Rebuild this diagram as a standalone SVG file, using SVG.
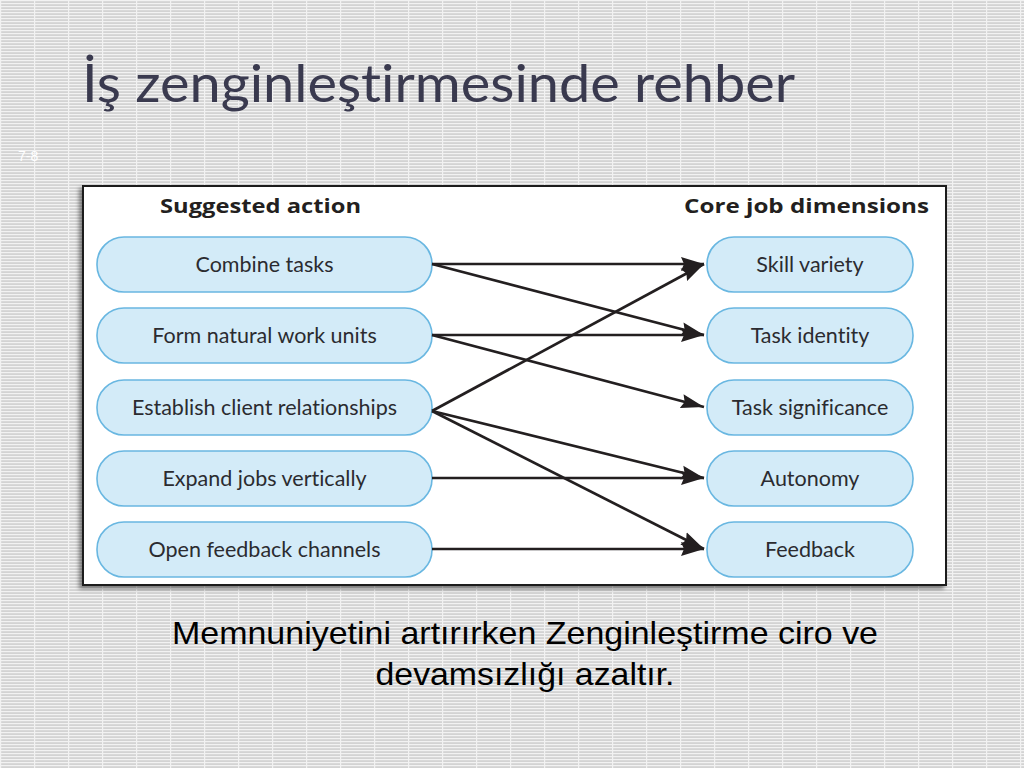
<svg xmlns="http://www.w3.org/2000/svg" width="1024" height="768" viewBox="0 0 1024 768">
  <defs>
    <pattern id="bg" x="0" y="0" width="34" height="3" patternUnits="userSpaceOnUse">
      <rect width="34" height="3" fill="#d3d3d3"/>
      <rect x="0" y="0" width="34" height="1.2" fill="#f2f2f2"/>
      <rect x="0" y="0" width="1.2" height="3" fill="#f2f2f2"/>
    </pattern>
    <filter id="sh" x="-5%" y="-5%" width="110%" height="115%">
      <feDropShadow dx="-3" dy="3" stdDeviation="2" flood-color="#000" flood-opacity="0.45"/>
    </filter>
    <marker id="ah" markerWidth="24" markerHeight="16" refX="23" refY="8" orient="auto" markerUnits="userSpaceOnUse">
      <path d="M0,1 L23,8 L0,15 L3,8 z" fill="#231f20"/>
    </marker>
    <style>
      text { font-variant-ligatures: none; }
      .node rect { fill: #d3ebf8; stroke: #69b7e1; stroke-width: 1.6; }
      .node text { font-family: Lato, "Open Sans", "Liberation Sans", sans-serif; font-size: 21.5px; fill: #2b2b30; text-anchor: middle; }
      .hdr { font-family: "Open Sans", Lato, "Liberation Sans", sans-serif; font-weight: bold; font-size: 20px; fill: #231f20; }
      .conn line { stroke: #231f20; stroke-width: 2.7; marker-end: url(#ah); }
    </style>
  </defs>
  <rect width="1024" height="768" fill="url(#bg)"/>
  <text x="82" y="102" font-family="Lato, 'Open Sans', sans-serif" font-size="52" fill="#3a3a4f" textLength="713" lengthAdjust="spacingAndGlyphs">İş zenginleştirmesinde rehber</text>
  <text x="18" y="161" font-family="'Liberation Sans', sans-serif" font-size="14" fill="#ffffff">7-8</text>

  <g id="frame">
    <rect x="83" y="186" width="863" height="399" fill="#ffffff" stroke="#1a1a1a" stroke-width="2" filter="url(#sh)"/>
    <text class="hdr" x="160" y="213" textLength="201" lengthAdjust="spacingAndGlyphs">Suggested action</text>
    <text class="hdr" x="684" y="213" textLength="245" lengthAdjust="spacingAndGlyphs">Core job dimensions</text>
  </g>

  <g id="a1" class="node"><rect x="97" y="237" width="335" height="55" rx="27"/><text x="264.5" y="272">Combine tasks</text></g>
  <g id="a2" class="node"><rect x="97" y="308" width="335" height="55" rx="27"/><text x="264.5" y="343">Form natural work units</text></g>
  <g id="a3" class="node"><rect x="97" y="380" width="335" height="55" rx="27"/><text x="264.5" y="415">Establish client relationships</text></g>
  <g id="a4" class="node"><rect x="97" y="451" width="335" height="55" rx="27"/><text x="264.5" y="486">Expand jobs vertically</text></g>
  <g id="a5" class="node"><rect x="97" y="522" width="335" height="55" rx="27"/><text x="264.5" y="557">Open feedback channels</text></g>

  <g id="d1" class="node"><rect x="707" y="237" width="206" height="55" rx="27"/><text x="810" y="272">Skill variety</text></g>
  <g id="d2" class="node"><rect x="707" y="308" width="206" height="55" rx="27"/><text x="810" y="343">Task identity</text></g>
  <g id="d3" class="node"><rect x="707" y="380" width="206" height="55" rx="27"/><text x="810" y="415">Task significance</text></g>
  <g id="d4" class="node"><rect x="707" y="451" width="206" height="55" rx="27"/><text x="810" y="486">Autonomy</text></g>
  <g id="d5" class="node"><rect x="707" y="522" width="206" height="55" rx="27"/><text x="810" y="557">Feedback</text></g>

  <g id="connectors" class="conn">
    <line x1="432" y1="264" x2="704" y2="264"/>
    <line x1="432" y1="264" x2="704" y2="335"/>
    <line x1="432" y1="335" x2="704" y2="335"/>
    <line x1="432" y1="335" x2="704" y2="407"/>
    <line x1="432" y1="411" x2="704" y2="264"/>
    <line x1="432" y1="411" x2="704" y2="478"/>
    <line x1="432" y1="411" x2="704" y2="549"/>
    <line x1="432" y1="478" x2="704" y2="478"/>
    <line x1="432" y1="549" x2="704" y2="549"/>
  </g>

  <text x="525" y="644" font-family="'Liberation Sans', Arial, sans-serif" font-size="32" fill="#000" text-anchor="middle" textLength="706" lengthAdjust="spacingAndGlyphs">Memnuniyetini artırırken Zenginleştirme ciro ve</text>
  <text x="525" y="685" font-family="'Liberation Sans', Arial, sans-serif" font-size="32" fill="#000" text-anchor="middle" textLength="299" lengthAdjust="spacingAndGlyphs">devamsızlığı azaltır.</text>
</svg>
